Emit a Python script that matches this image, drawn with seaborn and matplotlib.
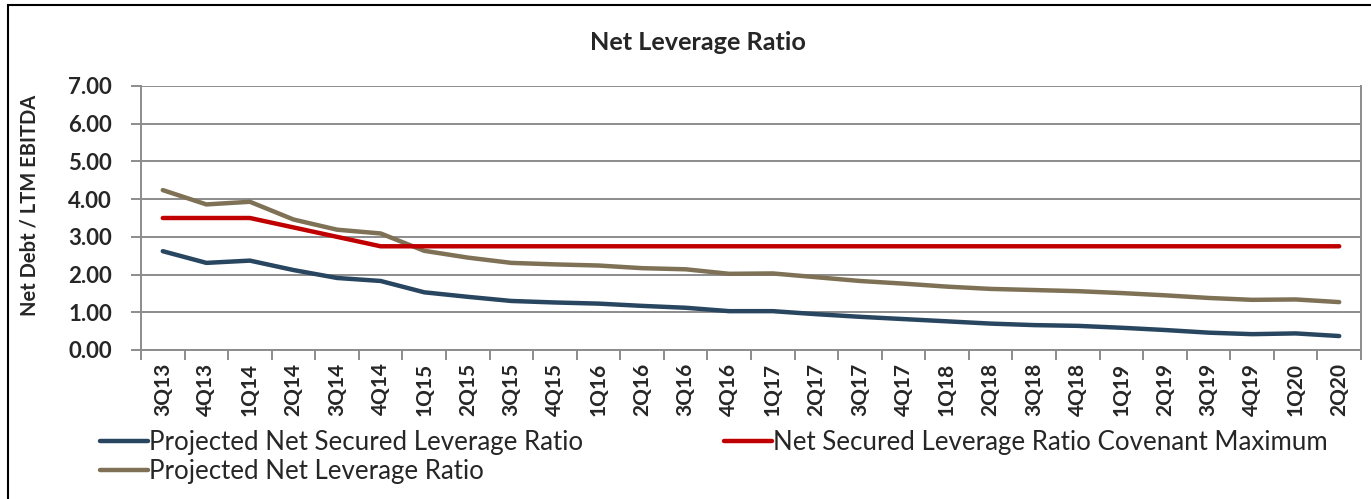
import numpy as np
import pandas as pd
import matplotlib
matplotlib.use("Agg")
import matplotlib.pyplot as plt
from matplotlib.patches import Rectangle
from matplotlib.ticker import FixedLocator, FormatStrFormatter
import seaborn as sns

quarters = ["3Q13", "4Q13", "1Q14", "2Q14", "3Q14", "4Q14", "1Q15", "2Q15", "3Q15", "4Q15",
            "1Q16", "2Q16", "3Q16", "4Q16", "1Q17", "2Q17", "3Q17", "4Q17", "1Q18", "2Q18",
            "3Q18", "4Q18", "1Q19", "2Q19", "3Q19", "4Q19", "1Q20", "2Q20"]

net_secured = [2.62, 2.31, 2.37, 2.12, 1.91, 1.83, 1.53, 1.41, 1.30, 1.26,
               1.23, 1.17, 1.12, 1.03, 1.03, 0.95, 0.88, 0.82, 0.76, 0.70,
               0.66, 0.64, 0.59, 0.53, 0.46, 0.42, 0.44, 0.37]
covenant_max = [3.50, 3.50, 3.50, 3.25, 3.00, 2.75, 2.75, 2.75, 2.75, 2.75,
                2.75, 2.75, 2.75, 2.75, 2.75, 2.75, 2.75, 2.75, 2.75, 2.75,
                2.75, 2.75, 2.75, 2.75, 2.75, 2.75, 2.75, 2.75]
net_leverage = [4.24, 3.86, 3.93, 3.46, 3.19, 3.09, 2.63, 2.45, 2.31, 2.27,
                2.24, 2.17, 2.14, 2.02, 2.03, 1.93, 1.83, 1.76, 1.68, 1.62,
                1.59, 1.56, 1.51, 1.45, 1.38, 1.33, 1.34, 1.27]

series_names = ["Projected Net Secured Leverage Ratio",
                "Projected Net Leverage Ratio",
                "Net Secured Leverage Ratio Covenant Maximum"]
series_colors = ["#294661", "#7E7155", "#C00000"]
y_ticks = [0, 1, 2, 3, 4, 5, 6, 7]

sns.set_style("white")
plt.rcParams["font.family"] = ["Lato", "DejaVu Sans"]

pos = np.arange(len(quarters))
df = pd.DataFrame({
    "pos": np.concatenate([pos, pos, pos]),
    "value": net_secured + net_leverage + covenant_max,
    "series": np.repeat(series_names, len(quarters)),
})

W, H = 1371, 499
fig = plt.figure(figsize=(W / 100, H / 100), dpi=100)
ax = fig.add_axes([141 / W, 1 - 350 / H, (1361 - 141) / W, (350 - 86) / H])

grid_c = "#8C8C8C"
for v in y_ticks:
    ax.axhline(v, color=grid_c, lw=1.4, zorder=1)

sns.lineplot(data=df, x="pos", y="value", hue="series", hue_order=series_names,
             palette=series_colors, linewidth=3.2, ax=ax, legend=True,
             solid_capstyle="round", zorder=3)
# draw covenant line on top of the others
for line in ax.get_lines():
    if tuple(line.get_color()) == matplotlib.colors.to_rgba(series_colors[2]):
        line.set_zorder(4)

ax.set_xlim(-0.5, len(quarters) - 0.5)
ax.set_ylim(0, 7)
ax.set_xticks(pos)
ax.set_xticklabels(quarters, rotation=90, fontsize=15, fontweight="bold")
ax.xaxis.set_minor_locator(FixedLocator(np.arange(len(quarters) + 1) - 0.5))
ax.tick_params(axis="x", which="major", length=0, pad=9)
ax.tick_params(axis="x", which="minor", length=7, width=1.4, color=grid_c, direction="out", bottom=True)
ax.set_yticks(y_ticks)
ax.yaxis.set_major_formatter(FormatStrFormatter("%.2f"))
ax.tick_params(axis="y", length=7, width=1.4, color=grid_c, direction="out", pad=14, left=True)
for lab in ax.get_yticklabels():
    lab.set_fontsize(16)
    lab.set_fontweight("bold")
ax.set_xlabel("")
ax.set_ylabel("")

for side in ["left", "bottom", "right"]:
    ax.spines[side].set_visible(True)
    ax.spines[side].set_color(grid_c)
    ax.spines[side].set_linewidth(1.4)
ax.spines["top"].set_visible(False)

handles, labels = ax.get_legend_handles_labels()
ax.get_legend().remove()
leg = fig.legend(handles, labels, ncol=2, loc="upper left",
                 bbox_to_anchor=(87 / W, 1 - 417 / H), frameon=False,
                 fontsize=18.6, handlelength=1.85, handletextpad=0.05,
                 columnspacing=5.45, labelspacing=0.16, borderpad=0)
for h in leg.legend_handles:
    h.set_linewidth(3.2)
    h.set_solid_capstyle("round")

fig.text(30 / W, 1 - 205 / H, "Net Debt / LTM EBITDA", rotation=90,
         ha="center", va="center", fontsize=14.5, fontweight="bold")
fig.text(698 / W, 1 - 42 / H, "Net Leverage Ratio", ha="center", va="center",
         fontsize=18.2, fontweight="bold")

fig.patches.append(Rectangle((8 / W, -0.2), 1.5, 1.2 + (1 - 5 / H) - 1.0,
                             transform=fig.transFigure, fill=False,
                             edgecolor="black", lw=1.5))

fig.savefig("out.png", dpi=100)
